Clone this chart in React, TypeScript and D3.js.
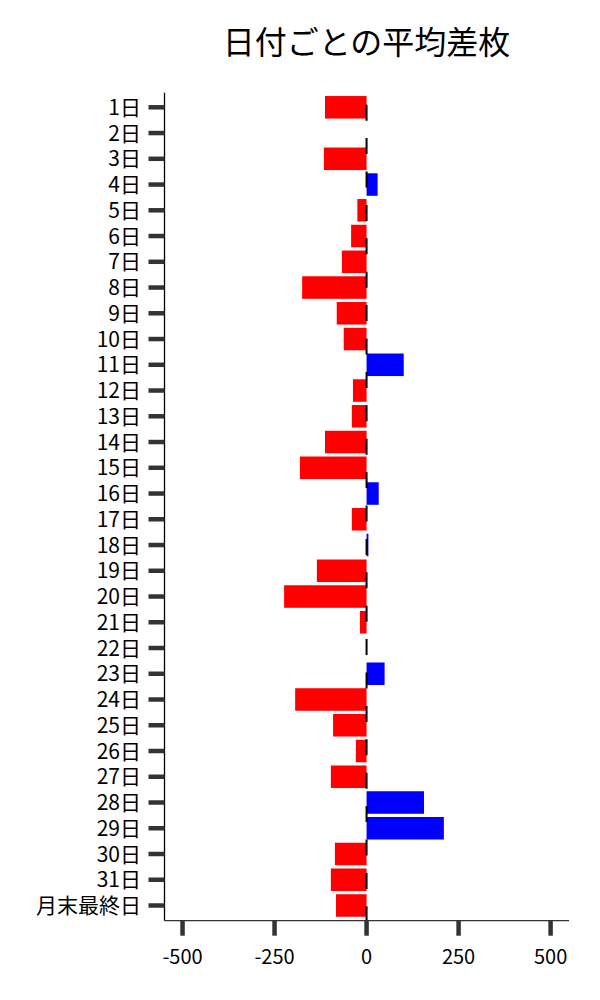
import React from "react";
import * as d3 from "d3";

const title = "日付ごとの平均差枚";
const days = [
  "1日","2日","3日","4日","5日","6日","7日","8日","9日","10日",
  "11日","12日","13日","14日","15日","16日","17日","18日","19日","20日",
  "21日","22日","23日","24日","25日","26日","27日","28日","29日","30日",
  "31日","月末最終日",
];
const avgDiff = [
  -113, 0, -116, 30, -25, -42, -67, -175, -81, -62,
  101, -37, -40, -113, -181, 33, -40, 5, -135, -224,
  -18, 0, 49, -194, -91, -29, -97, 156, 210, -86,
  -97, -83,
];
const xTicks = [-500, -250, 0, 250, 500];
const xDomain = [-549, 550];

const W = 600;
const H = 1000;
const left = 164.5;
const right = 569;
const top = 92.7;
const bottom = 920.7;
const font = "'Noto Sans CJK JP', 'Noto Sans', sans-serif";

export default function App() {
  const x = d3.scaleLinear().domain(xDomain).range([left, right]);
  const y = d3.scalePoint<string>().domain(days).range([107.3, 905.5]);
  const step = y.step();
  const barH = step * 0.875;
  const x0 = x(0);

  return (
    <svg
      width={W}
      height={H}
      style={{ position: "absolute", left: 0, top: 0, background: "#fff" }}
      fontFamily={font}
    >
      <text x={366.5} y={54} fontSize={32} textAnchor="middle" fill="#000">
        {title}
      </text>
      {days.map((d, i) => {
        const v = avgDiff[i];
        if (v === 0) return null;
        const xa = x(Math.min(0, v));
        const xb = x(Math.max(0, v));
        return (
          <rect
            key={d}
            x={xa}
            y={(y(d) as number) - barH / 2}
            width={xb - xa}
            height={barH}
            fill={v < 0 ? "#ff0000" : "#0000ff"}
          />
        );
      })}
      <line
        x1={x0}
        x2={x0}
        y1={top}
        y2={bottom}
        stroke="#000"
        strokeWidth={2}
        strokeDasharray="16 17.4"
        strokeDashoffset={-12}
      />
      <line x1={left} x2={left} y1={top} y2={bottom} stroke="#000" strokeWidth={1.3} />
      <line x1={left} x2={right} y1={bottom} y2={bottom} stroke="#333" strokeWidth={1.3} />
      {days.map((d) => (
        <g key={"yt" + d}>
          <line
            x1={148.5}
            x2={left}
            y1={y(d) as number}
            y2={y(d) as number}
            stroke="#333"
            strokeWidth={4.5}
          />
          <text
            x={141}
            y={(y(d) as number) + 7.5}
            fontSize={21}
            textAnchor="end"
            fill="#000"
          >
            {d}
          </text>
        </g>
      ))}
      {xTicks.map((t) => (
        <g key={"xt" + t}>
          <line
            x1={x(t)}
            x2={x(t)}
            y1={bottom}
            y2={bottom + 15}
            stroke="#333"
            strokeWidth={4.5}
          />
          <text x={x(t)} y={964} fontSize={20} textAnchor="middle" fill="#000">
            {t}
          </text>
        </g>
      ))}
    </svg>
  );
}
